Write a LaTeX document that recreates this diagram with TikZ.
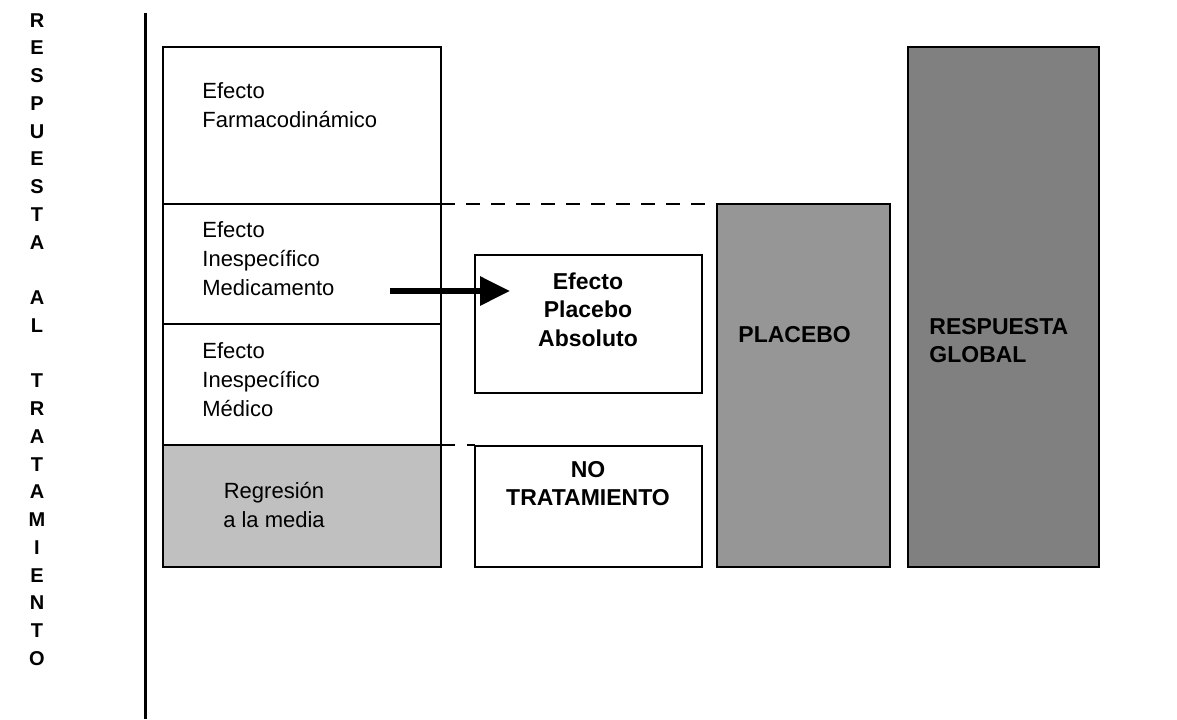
\documentclass[tikz,border=0pt]{standalone}
\usepackage{fontspec}
\setmainfont{Liberation Sans}
\usetikzlibrary{arrows.meta}
\definecolor{grisclaro}{HTML}{C0C0C0}
\definecolor{grismedio}{HTML}{969696}
\definecolor{grisoscuro}{HTML}{808080}

\begin{document}
\begin{tikzpicture}[x=0.5pt,y=-0.5pt,
  caja/.style={draw=black,line width=1.4pt},
  texto/.style={anchor=north west,align=left,inner sep=0pt,
    font=\fontsize{11}{14.5}\selectfont},
  negrita/.style={inner sep=0pt,font=\fontsize{11.5}{14.25}\selectfont\bfseries}]
\useasboundingbox (0,0) rectangle (1177,719);
% eje y su rotulo
\draw[line width=1.5pt] (145,13) -- (145,719);
\node[negrita,anchor=north,align=center,font=\fontsize{10}{13.875}\selectfont\bfseries] (eje) at (37,13)
  {R\\E\\S\\P\\U\\E\\S\\T\\A\\[13.875pt]A\\L\\[13.875pt]T\\R\\A\\T\\A\\M\\I\\E\\N\\T\\O};
% columna de efectos
\draw[caja] (163,47) rectangle (441,204);
\draw[caja] (163,204) rectangle (441,324);
\draw[caja] (163,324) rectangle (441,445);
\draw[caja,fill=grisclaro] (163,445) rectangle (441,567);
\node[texto] (farma) at (202,82) {Efecto\\Farmacodinámico};
\node[texto] (medicam) at (202,221) {Efecto\\Inespecífico\\Medicamento};
\node[texto] (medico) at (202,342) {Efecto\\Inespecífico\\Médico};
\node[texto,anchor=north,align=center] (regresion) at (274,482) {Regresión\\a la media};
% niveles
\draw[line width=1.4pt,dash pattern=on 7pt off 5.5pt] (441,204) -- (717,204);
\draw[line width=1.4pt] (441,445) -- (455,445) (467,445) -- (475,445);
% placebo absoluto y no tratamiento
\draw[caja] (475,255) rectangle (702,393);
\draw[caja] (475,446) rectangle (702,567);
\node[negrita,anchor=north,align=center] (absoluto) at (588,272) {Efecto\\Placebo\\Absoluto};
\node[negrita,anchor=north,align=center] (notrat) at (588,461) {NO\\TRATAMIENTO};
\coordinate (ini) at (390,291);
\coordinate (fin) at (510,291);
\draw[line width=3pt,-{Triangle[length=15pt,width=14pt]}] (ini) -- (fin);
% barras
\draw[caja,fill=grismedio] (717,204) rectangle (890,567);
\draw[caja,fill=grisoscuro] (908,47) rectangle (1099,567);
\node[negrita,anchor=north west] (placebo) at (738,326) {PLACEBO};
\node[negrita,anchor=north west,align=left] (global) at (929,318) {RESPUESTA\\GLOBAL};
\end{tikzpicture}
\end{document}
